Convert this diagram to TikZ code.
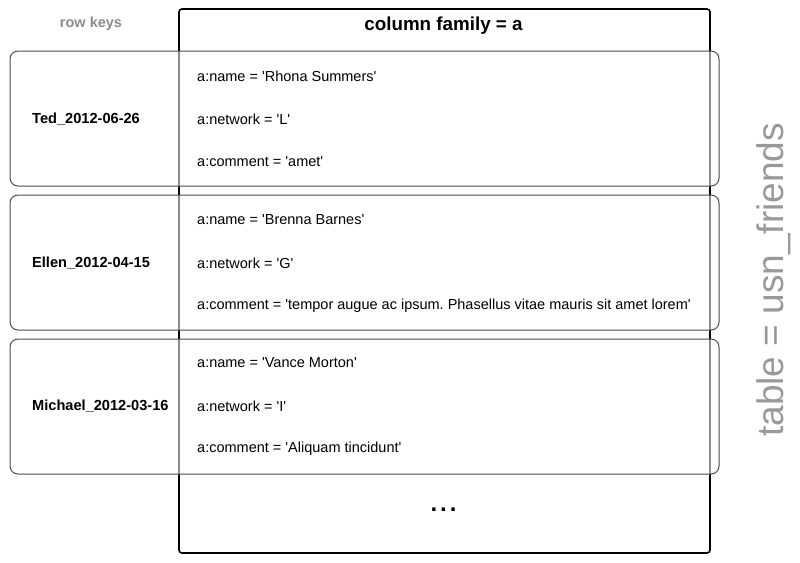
\documentclass[tikz,border=0pt]{standalone}
\usepackage{fontspec}
\setmainfont{Liberation Sans}[Ligatures=TeXOff]
\frenchspacing
\begin{document}
\begin{tikzpicture}[x=1pt,y=-1pt,
  bigbox/.style={draw=black,line width=1.6pt,rounded corners=3pt},
  rowbox/.style={draw=black!70,line width=1pt,rounded corners=8pt,fill=white,fill opacity=0.55},
  keytext/.style={font=\fontsize{14.6}{17}\selectfont\bfseries,anchor=west,inner sep=0pt},
  entry/.style={font=\fontsize{14.5}{17}\selectfont,anchor=west,inner sep=0pt},
  ]
\useasboundingbox (0,0) rectangle (800,562);
\draw[bigbox] (179,9) rectangle (710,553);
\node[font=\fontsize{18.8}{22}\selectfont\bfseries] (hdr) at (443.5,26) {column family = a};
\node[font=\fontsize{14.5}{17}\selectfont\bfseries,text=black!45] (rk) at (91,24) {row keys};
% rows
\draw[rowbox] (10,51) rectangle (719,186);
\draw[rowbox] (10,195) rectangle (719,330);
\draw[rowbox] (10,339) rectangle (719,474);
\node[keytext] (k1) at (32,119) {Ted\_2012-06-26};
\node[keytext] (k2) at (32,263) {Ellen\_2012-04-15};
\node[keytext] (k3) at (32,406) {Michael\_2012-03-16};
\node[entry] (e11) at (197,76) {a:name = 'Rhona Summers'};
\node[entry] (e12) at (197,119) {a:network = 'L'};
\node[entry] (e13) at (197,162) {a:comment = 'amet'};
\node[entry] (e21) at (197,220) {a:name = 'Brenna Barnes'};
\node[entry] (e22) at (197,263) {a:network = 'G'};
\node[entry] (e23) at (197,306) {a:comment = 'tempor augue ac ipsum. Phasellus vitae mauris sit amet lorem'};
\node[entry] (e31) at (197,363) {a:name = 'Vance Morton'};
\node[entry] (e32) at (197,406) {a:network = 'I'};
\node[entry] (e33) at (197,449) {a:comment = 'Aliquam tincidunt'};
\node[font=\fontsize{24}{26}\selectfont\bfseries] (dots) at (443.5,510) {.\kern3pt.\kern3pt.};
\node[font=\fontsize{37}{40}\selectfont,text=black!40,rotate=90] (tbl) at (774,280) {table = usn\_friends};
\end{tikzpicture}
\end{document}
